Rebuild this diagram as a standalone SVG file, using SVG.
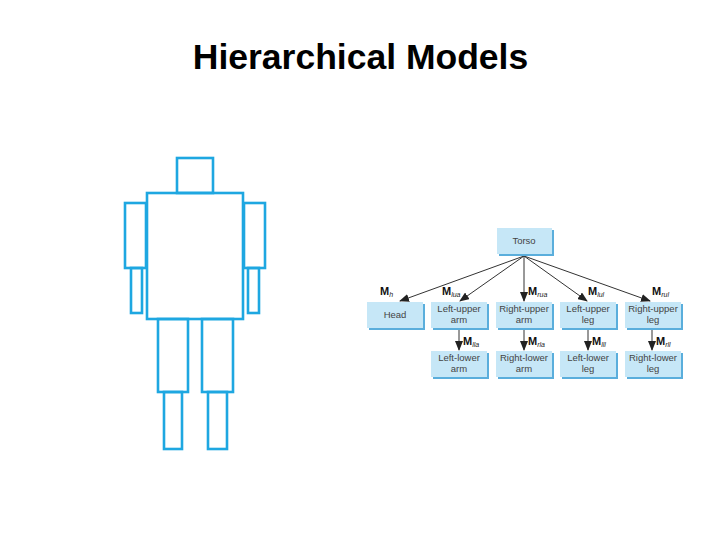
<svg xmlns="http://www.w3.org/2000/svg" width="720" height="540" viewBox="0 0 720 540">
<defs>
<marker id="ah" markerWidth="10" markerHeight="8" refX="9" refY="4" orient="auto" markerUnits="userSpaceOnUse">
<path d="M0,0 L10,4 L0,8 Z" fill="#222"/>
</marker>
</defs>
<style>
.title{font-family:"Liberation Sans",Arial,sans-serif;font-weight:bold;font-size:35.5px;fill:#000}
.body{fill:none;stroke:#1ea7e1;stroke-width:2.6}
.sh{fill:#5aaedc}
.bx{fill:#c6e7f7}
.t{font-family:"Liberation Sans",Arial,sans-serif;font-size:9.5px;fill:#444;text-anchor:middle}
.m{font-family:"Liberation Sans",Arial,sans-serif;font-size:11px;font-weight:bold;fill:#111}
.s{font-size:7px;font-style:italic;font-weight:normal;fill:#222}
.c{stroke:#333;stroke-width:1;fill:none;marker-end:url(#ah)}
</style>
<rect width="720" height="540" fill="#fff"/>
<text class="title" x="360.5" y="69" text-anchor="middle">Hierarchical Models</text>

<g id="figure">
<rect class="body" x="177" y="158" width="36" height="35"/>
<rect class="body" x="147" y="193" width="96" height="126"/>
<rect class="body" x="125" y="203" width="21" height="65"/>
<rect class="body" x="131" y="268" width="11" height="45"/>
<rect class="body" x="244" y="203" width="21" height="65"/>
<rect class="body" x="248" y="268" width="11" height="45"/>
<rect class="body" x="158" y="319" width="30" height="73"/>
<rect class="body" x="164" y="392" width="18" height="57"/>
<rect class="body" x="202" y="319" width="31" height="73"/>
<rect class="body" x="208" y="392" width="19" height="57"/>
</g>

<g id="connectors">
<line class="c" x1="524" y1="256" x2="400" y2="301"/>
<line class="c" x1="524" y1="256" x2="460" y2="301"/>
<line class="c" x1="524" y1="256" x2="524" y2="301"/>
<line class="c" x1="524" y1="256" x2="587" y2="301"/>
<line class="c" x1="524" y1="256" x2="650" y2="301"/>
<line class="c" x1="459" y1="329" x2="459" y2="350"/>
<line class="c" x1="524" y1="329" x2="524" y2="350"/>
<line class="c" x1="588" y1="329" x2="588" y2="350"/>
<line class="c" x1="652" y1="329" x2="652" y2="350"/>
<text class="m" x="380" y="295">M<tspan class="s" dy="2">h</tspan></text>
<text class="m" x="442" y="295">M<tspan class="s" dy="2">lua</tspan></text>
<text class="m" x="528" y="295">M<tspan class="s" dy="2">rua</tspan></text>
<text class="m" x="588" y="295">M<tspan class="s" dy="2">lul</tspan></text>
<text class="m" x="652" y="295">M<tspan class="s" dy="2">rul</tspan></text>
<text class="m" x="463" y="345">M<tspan class="s" dy="2">lla</tspan></text>
<text class="m" x="528" y="345">M<tspan class="s" dy="2">rla</tspan></text>
<text class="m" x="592" y="345">M<tspan class="s" dy="2">lll</tspan></text>
<text class="m" x="656" y="345">M<tspan class="s" dy="2">rll</tspan></text>
</g>

<g id="torso"><rect class="sh" x="499" y="230" width="55" height="26"/><rect class="bx" x="497" y="228" width="55" height="26"/><text class="t" x="524" y="244">Torso</text></g>

<g id="head"><rect class="sh" x="369" y="304" width="56" height="26"/><rect class="bx" x="367" y="302" width="56" height="26"/><text class="t" x="395" y="318">Head</text></g>
<g id="lua"><rect class="sh" x="433" y="304" width="56" height="26"/><rect class="bx" x="431" y="302" width="56" height="26"/><text class="t" x="459" y="312">Left-upper</text><text class="t" x="459" y="323">arm</text></g>
<g id="rua"><rect class="sh" x="498" y="304" width="56" height="26"/><rect class="bx" x="496" y="302" width="56" height="26"/><text class="t" x="524" y="312">Right-upper</text><text class="t" x="524" y="323">arm</text></g>
<g id="lul"><rect class="sh" x="562" y="304" width="56" height="26"/><rect class="bx" x="560" y="302" width="56" height="26"/><text class="t" x="588" y="312">Left-upper</text><text class="t" x="588" y="323">leg</text></g>
<g id="rul"><rect class="sh" x="627" y="304" width="56" height="26"/><rect class="bx" x="625" y="302" width="56" height="26"/><text class="t" x="653" y="312">Right-upper</text><text class="t" x="653" y="323">leg</text></g>

<g id="lla"><rect class="sh" x="433" y="353" width="56" height="26"/><rect class="bx" x="431" y="351" width="56" height="26"/><text class="t" x="459" y="361">Left-lower</text><text class="t" x="459" y="372">arm</text></g>
<g id="rla"><rect class="sh" x="498" y="353" width="56" height="26"/><rect class="bx" x="496" y="351" width="56" height="26"/><text class="t" x="524" y="361">Right-lower</text><text class="t" x="524" y="372">arm</text></g>
<g id="lll"><rect class="sh" x="562" y="353" width="56" height="26"/><rect class="bx" x="560" y="351" width="56" height="26"/><text class="t" x="588" y="361">Left-lower</text><text class="t" x="588" y="372">leg</text></g>
<g id="rll"><rect class="sh" x="627" y="353" width="56" height="26"/><rect class="bx" x="625" y="351" width="56" height="26"/><text class="t" x="653" y="361">Right-lower</text><text class="t" x="653" y="372">leg</text></g>
</svg>
